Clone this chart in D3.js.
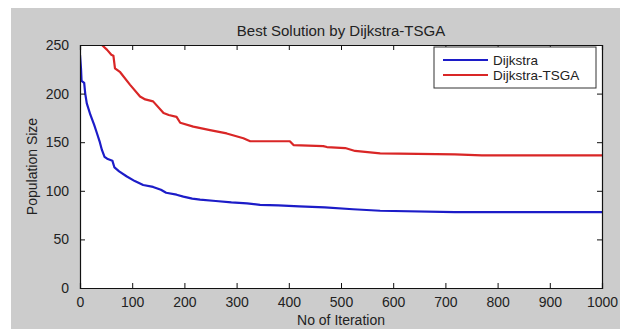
<!DOCTYPE html>
<html>
<head>
<meta charset="utf-8">
<script src="https://cdn.jsdelivr.net/npm/d3@7"></script>
<style>
  body { margin: 0; background: #ffffff; }
  text { font-family: Arial, "Liberation Sans", sans-serif; fill: #222; }
</style>
</head>
<body>
<div id="chart"></div>
<script>
// best-so-far values
const dijkstraIter = [0, 2, 3, 8, 10, 13, 20, 27, 32, 38, 42, 47, 52, 62, 66, 75, 89, 105, 121, 140, 155, 165, 185, 198, 215, 230, 260, 290, 320, 345, 380, 420, 469, 523, 575, 718, 1000]
const dijkstraVal = [240, 225, 213, 211, 200, 190, 178, 168, 160, 150, 142, 135, 133, 131, 124, 120, 115, 110, 106, 104, 101, 98, 96, 94, 92, 91, 89.5, 88, 87, 85.5, 85, 84, 83, 81, 79.5, 78, 78]

const tsgaIter = [0, 20, 35, 42, 52, 60, 64, 67, 77, 96, 115, 125, 140, 160, 170, 185, 192, 217, 249, 281, 313, 326, 402, 409, 466, 473, 508, 527, 575, 718, 770, 1000]
const tsgaVal = [275, 265, 256, 250, 245, 240, 239, 226, 222, 209, 197, 194, 192, 180, 178, 176, 170, 166, 162.5, 159, 154, 151, 151, 147, 146, 145, 144, 141, 138.5, 137.5, 136.5, 136.5]

const xTicks = [0, 100, 200, 300, 400, 500, 600, 700, 800, 900, 1000]
const yTicks = [0, 50, 100, 150, 200, 250]

const seriesNames = ['Dijkstra', 'Dijkstra-TSGA']
const seriesColors = ['#1c1cc8', '#d92626']

function drawChart(){
    // 1. Access the data
    const series = [
        dijkstraIter.map((d, i) => ({x: d, y: dijkstraVal[i]})),
        tsgaIter.map((d, i) => ({x: d, y: tsgaVal[i]})),
    ]
    const xAccessor = d => d.x
    const yAccessor = d => d.y

    // 2. Create Dimensions
    let dimensions = {
        width: 620,
        height: 329,
        margin: {
            top: 45,
            right: 18,
            bottom: 41,
            left: 80,
        }
    }
    dimensions.boundedWidth = dimensions.width
        - dimensions.margin.left
        - dimensions.margin.right
    dimensions.boundedHeight = dimensions.height
        - dimensions.margin.top
        - dimensions.margin.bottom

    // 3. Draw Canvas
    const wrapper = d3.select('#chart')
        .append('svg')
        .attr('width', dimensions.width)
        .attr('height', dimensions.height)
        .style('display', 'block')

    wrapper.append('rect')
        .attr('x', 11)
        .attr('y', 8)
        .attr('width', dimensions.width - 11)
        .attr('height', dimensions.height - 8)
        .attr('fill', '#cccccc')

    const bounds = wrapper.append('g')
        .attr('transform', `translate(${dimensions.margin.left},${dimensions.margin.top})`)

    bounds.append('rect')
        .attr('width', dimensions.boundedWidth)
        .attr('height', dimensions.boundedHeight)
        .attr('fill', '#ffffff')

    bounds.append('clipPath')
        .attr('id', 'plot-clip')
      .append('rect')
        .attr('width', dimensions.boundedWidth)
        .attr('height', dimensions.boundedHeight)

    // 4. Create Scales
    const xScale = d3.scaleLinear()
        .domain([0, 1000])
        .range([0, dimensions.boundedWidth])

    const yScale = d3.scaleLinear()
        .domain([0, 250])
        .range([dimensions.boundedHeight, 0])

    // 5. Draw Data
    const lineGenerator = d3.line()
        .x(d => xScale(xAccessor(d)))
        .y(d => yScale(yAccessor(d)))

    series.forEach((s, i) => {
        bounds.append('path')
            .attr('d', lineGenerator(s))
            .attr('clip-path', 'url(#plot-clip)')
            .attr('fill', 'none')
            .attr('stroke', seriesColors[i])
            .attr('stroke-width', 2.2)
            .attr('stroke-linejoin', 'round')
    })

    // 6. Draw Peripherals
    const tickLen = 5
    const xAxis = bounds.append('g')
        .attr('transform', `translate(0,${dimensions.boundedHeight})`)
        .call(d3.axisBottom(xScale).tickValues(xTicks).tickSize(-tickLen).tickPadding(tickLen + 4).tickFormat(d3.format('d')))
    const xAxisTop = bounds.append('g')
        .call(d3.axisTop(xScale).tickValues(xTicks).tickSize(-tickLen).tickFormat(''))
    const yAxis = bounds.append('g')
        .call(d3.axisLeft(yScale).tickValues(yTicks).tickSize(-tickLen).tickPadding(tickLen + 6))
    const yAxisRight = bounds.append('g')
        .attr('transform', `translate(${dimensions.boundedWidth},0)`)
        .call(d3.axisRight(yScale).tickValues(yTicks).tickSize(-tickLen).tickFormat(''))

    ;[xAxis, xAxisTop, yAxis, yAxisRight].forEach(a => {
        a.select('.domain').attr('stroke', '#111').attr('stroke-width', 1.2)
        a.selectAll('.tick line').attr('stroke', '#111')
        a.selectAll('.tick text')
            .attr('fill', '#222')
            .style('font-size', '14px')
            .style('font-family', 'Arial, "Liberation Sans", sans-serif')
    })

    bounds.append('text')
        .attr('x', dimensions.boundedWidth / 2)
        .attr('y', -9)
        .attr('text-anchor', 'middle')
        .style('font-size', '15px')
        .text('Best Solution by Dijkstra-TSGA')

    bounds.append('text')
        .attr('x', dimensions.boundedWidth / 2)
        .attr('y', dimensions.boundedHeight + 37)
        .attr('text-anchor', 'middle')
        .style('font-size', '14px')
        .text('No of Iteration')

    bounds.append('text')
        .attr('transform', `translate(${37 - dimensions.margin.left},${dimensions.boundedHeight / 2}) rotate(-90)`)
        .attr('text-anchor', 'middle')
        .style('font-size', '14px')
        .text('Population Size')

    // legend
    const legend = bounds.append('g')
        .attr('transform', `translate(${434 - dimensions.margin.left},${47 - dimensions.margin.top})`)
    legend.append('rect')
        .attr('width', 162)
        .attr('height', 41)
        .attr('fill', '#ffffff')
        .attr('stroke', '#333')
        .attr('stroke-width', 1)
    seriesNames.forEach((name, i) => {
        const row = legend.append('g')
            .attr('transform', `translate(0,${13 + i * 15})`)
        row.append('line')
            .attr('x1', 9)
            .attr('x2', 54)
            .attr('stroke', seriesColors[i])
            .attr('stroke-width', 2)
        row.append('text')
            .attr('x', 59)
            .attr('y', 4.5)
            .style('font-size', '13.5px')
            .text(name)
    })
}

drawChart()
</script>
</body>
</html>
